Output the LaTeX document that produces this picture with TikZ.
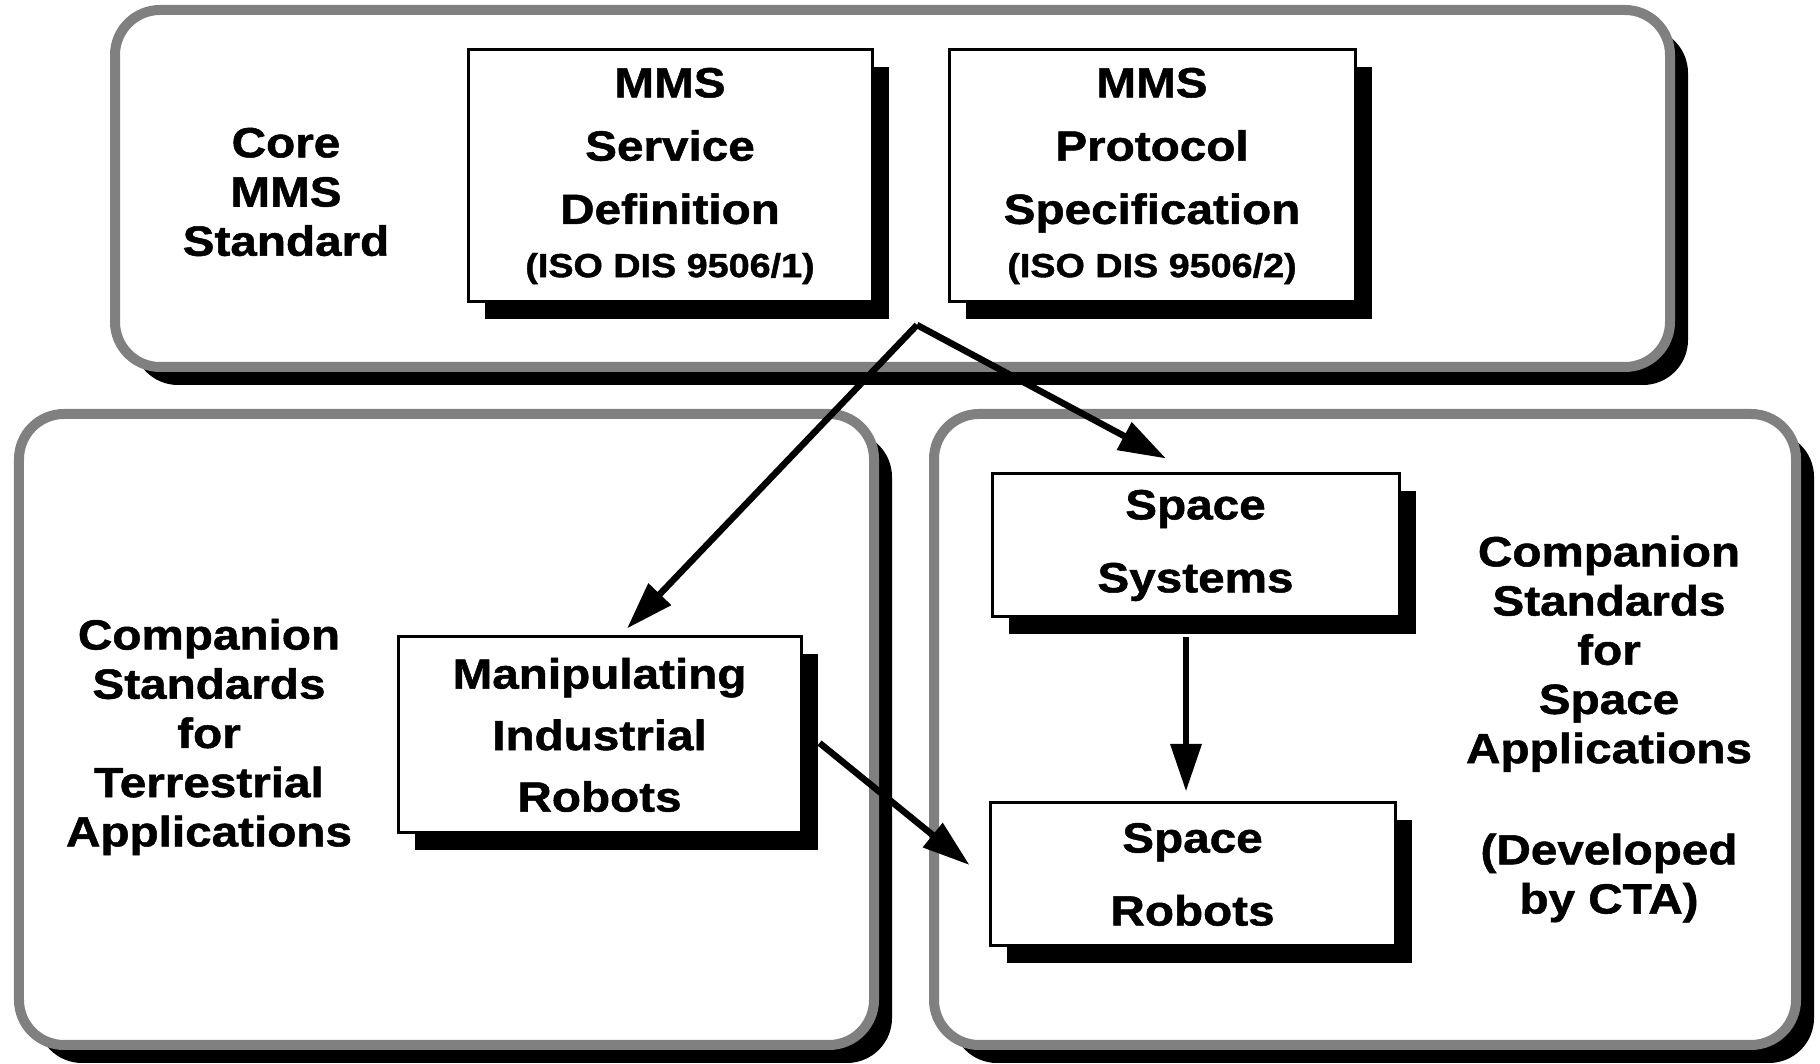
\documentclass[tikz,border=0pt]{standalone}
\usepackage{fontspec}
\setmainfont{Liberation Sans}[FakeStretch=1.13, BoldFeatures={FakeBold=1.2}]
\usepackage{tikz}
\usetikzlibrary{positioning,shadows,arrows.meta}

\begin{document}
\begin{tikzpicture}[
        panel/.style={draw=black!50, line width=0.2cm, rounded corners=0.9cm, fill=white,
            drop shadow={shadow xshift=0.36cm, shadow yshift=-0.36cm, fill=black, opacity=1}},
        stdbox/.style={draw=black, line width=0.06cm, fill=white, align=center, inner sep=0pt,
            font=\bfseries\fontsize{24}{36}\selectfont,
            drop shadow={shadow xshift=0.34cm, shadow yshift=-0.34cm, fill=black, opacity=1}},
        plabel/.style={align=center, font=\bfseries\fontsize{24}{28}\selectfont},
        arr/.style={-{Triangle[length=0.95cm,width=0.6cm]}, line width=0.13cm}
    ]
    \useasboundingbox (0,0) rectangle (36.4,21.28);

    % Core MMS panel
    \node[panel, minimum width=31.1cm, minimum height=7.14cm] (core) at (17.85, 17.51) {};
    \node[plabel] (corelbl) at (5.72, 17.44) {Core\\MMS\\Standard};
    \node[stdbox, minimum width=8.08cm, minimum height=5.04cm] (service) at (13.40, 17.76)
        {MMS\\Service\\Definition\\[-0.2cm]{\fontsize{19}{23}\selectfont (ISO DIS 9506/1)}};
    \node[stdbox, minimum width=8.12cm, minimum height=5.04cm] (protocol) at (23.04, 17.76)
        {MMS\\Protocol\\Specification\\[-0.2cm]{\fontsize{19}{23}\selectfont (ISO DIS 9506/2)}};

    % Terrestrial panel
    \node[panel, minimum width=17.1cm, minimum height=12.62cm] (terr) at (8.93, 6.69) {};
    \node[plabel] (terrlbl) at (4.18, 6.54) {Companion\\Standards\\for\\Terrestrial\\Applications};
    \node[stdbox, minimum width=8.06cm, minimum height=3.92cm,
        font=\bfseries\fontsize{24}{35}\selectfont] (manip) at (11.99, 6.58)
        {Manipulating\\Industrial\\Robots};

    % Space panel
    \node[panel, minimum width=17.24cm, minimum height=12.62cm] (space) at (27.30, 6.69) {};
    \node[plabel] (spacelbl) at (32.18, 6.70)
        {Companion\\Standards\\for\\Space\\Applications\\[1.04cm](Developed\\by CTA)};
    \node[stdbox, minimum width=8.14cm, minimum height=2.86cm,
        font=\bfseries\fontsize{24}{41.5}\selectfont] (spsys) at (23.91, 10.37) {Space\\Systems};
    \node[stdbox, minimum width=8.10cm, minimum height=2.86cm,
        font=\bfseries\fontsize{24}{41.5}\selectfont] (sprob) at (23.85, 3.79) {Space\\Robots};

    % arrows
    \coordinate (split) at (18.34, 14.78);
    \draw[arr] (split) -- ([xshift=0.55cm, yshift=0.14cm]manip.north);
    \draw[arr] (split) -- ([xshift=-0.59cm, yshift=0.28cm]spsys.north);
    \draw[arr] ([xshift=0.34cm, yshift=-0.16cm]manip.east) -- ([xshift=-0.38cm, yshift=0.19cm]sprob.west);
    \draw[arr] ([xshift=-0.19cm, yshift=-0.38cm]spsys.south) -- ([xshift=-0.13cm, yshift=0.2cm]sprob.north);

\end{tikzpicture}
\end{document}
